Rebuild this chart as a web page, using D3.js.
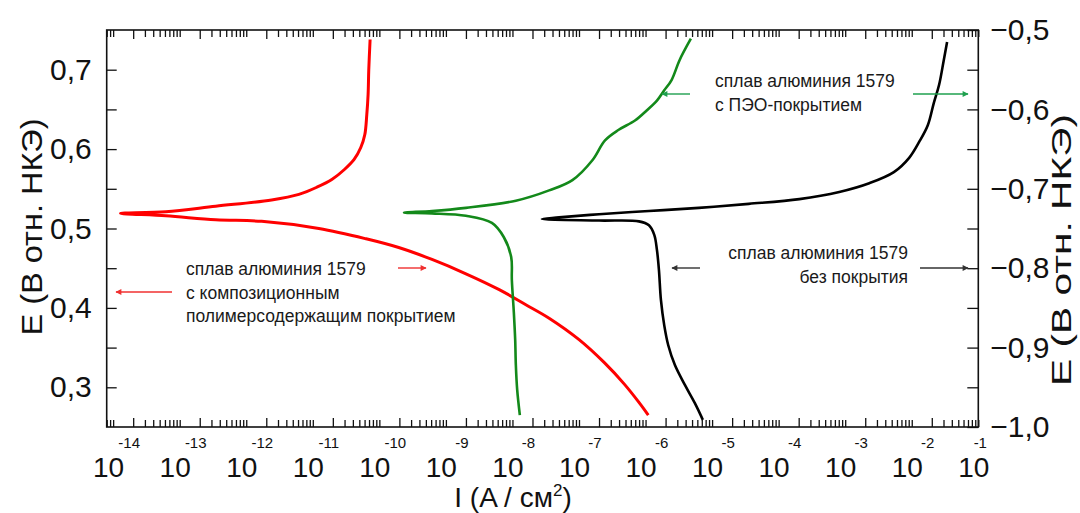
<!DOCTYPE html>
<html>
<head>
<meta charset="utf-8">
<script src="https://cdnjs.cloudflare.com/ajax/libs/d3/7.8.5/d3.min.js"></script>
<style>
body { margin: 0; background: #fff; }
svg { display: block; font-family: "Liberation Sans", Arial, sans-serif; }
</style>
</head>
<body>
<div id="chart"></div>
<script>
// polarization curves, lg(I) against E
var redLgI = [-10.44, -10.46, -10.47, -10.49, -10.52, -10.58, -10.68, -10.83, -11.01, -11.24, -11.51, -11.92, -12.76, -13.51, -14.19,
              -13.51, -12.76, -12.07, -11.21, -10.50, -10.01, -9.51, -9.00, -8.50, -8.10, -7.75, -7.30, -6.92, -6.62, -6.40, -6.26];
var redE = [0.738, 0.700, 0.669, 0.643, 0.618, 0.602, 0.587, 0.574, 0.562, 0.552, 0.543, 0.536, 0.528, 0.521, 0.519,
            0.516, 0.511, 0.509, 0.500, 0.487, 0.476, 0.461, 0.443, 0.423, 0.404, 0.387, 0.360, 0.331, 0.304, 0.281, 0.265];

var greenLgI = [-5.62, -5.79, -5.91, -6.02, -6.13, -6.28, -6.46, -6.71, -6.91, -7.10, -7.40, -7.75, -8.25, -9.00, -9.51, -9.93,
                -9.51, -9.00, -8.61, -8.43, -8.32, -8.31, -8.28, -8.26, -8.25, -8.23, -8.19];
var greenE = [-0.511, -0.538, -0.563, -0.576, -0.589, -0.601, -0.614, -0.626, -0.639, -0.664, -0.689, -0.702, -0.715, -0.724, -0.728, -0.730,
              -0.731, -0.734, -0.743, -0.761, -0.786, -0.815, -0.856, -0.890, -0.922, -0.953, -0.985];

var blackLgI = [-1.77, -1.82, -1.89, -1.97, -2.06, -2.19, -2.34, -2.57, -2.94, -3.39, -3.99, -4.75, -5.50, -6.25, -7.00, -7.60, -7.86,
                -7.00, -6.40, -6.25, -6.17, -6.13, -6.10, -6.07, -6.02, -5.96, -5.86, -5.71, -5.56, -5.44];
var blackE = [-0.515, -0.538, -0.569, -0.592, -0.620, -0.641, -0.661, -0.679, -0.693, -0.704, -0.713, -0.719, -0.724, -0.728, -0.732, -0.736, -0.738,
              -0.740, -0.741, -0.746, -0.758, -0.777, -0.802, -0.840, -0.872, -0.897, -0.922, -0.947, -0.970, -0.991];

var decades = [-14, -13, -12, -11, -10, -9, -8, -7, -6, -5, -4, -3, -2, -1];
var minorMult = [1.5, 2, 2.5, 3, 3.5, 4, 4.5, 5];
var leftTicks = [0.3, 0.4, 0.5, 0.6, 0.7];
var rightTicks = [-1.0, -0.9, -0.8, -0.7, -0.6, -0.5];

var redNote = ["сплав алюминия 1579", "с композиционным", "полимерсодержащим покрытием"];
var greenNote = ["сплав алюминия 1579", "с ПЭО-покрытием"];
var blackNote = ["сплав алюминия 1579", "без покрытия"];

var Chart = (function(d3) {
    var WIDTH = 1080, HEIGHT = 513,
        L = 106.7, R = 978.3, T = 30, B = 427;

    var x = d3.scaleLog().domain([4e-15, 5e-2]).range([L, R]);
    var yL = d3.scaleLinear().domain([0.25, 0.75]).range([B, T]);
    var yR = d3.scaleLinear().domain([-1.0, -0.5]).range([B, T]);

    function comma(d) {
        return d3.format(".1f")(d).replace(".", ",");
    }

    function pts(lg, e) {
        return lg.map(function(v, i) { return [Math.pow(10, v), e[i]]; });
    }

    function init() {
        var svg = d3.select('#chart').append('svg').attr('width', WIDTH).attr('height', HEIGHT);

        var defs = svg.append('defs');
        [['aRed', '#f03030'], ['aGreen', '#1fa04f'], ['aBlack', '#333']].forEach(function(m) {
            defs.append('marker').attr('id', m[0])
                .attr('viewBox', '0 0 10 10').attr('refX', 9).attr('refY', 5)
                .attr('markerWidth', 7).attr('markerHeight', 6).attr('orient', 'auto-start-reverse')
                .attr('markerUnits', 'userSpaceOnUse')
                .append('path').attr('d', 'M0,0L10,5L0,10z').attr('fill', m[1]);
        });

        drawAxes(svg);

        var lineL = d3.line().x(function(d) { return x(d[0]); }).y(function(d) { return yL(d[1]); }).curve(d3.curveCatmullRom);
        var lineR = d3.line().x(function(d) { return x(d[0]); }).y(function(d) { return yR(d[1]); }).curve(d3.curveCatmullRom);

        svg.append('path').attr('d', lineL(pts(redLgI, redE)))
            .attr('fill', 'none').attr('stroke', '#ff0000').attr('stroke-width', 3);
        svg.append('path').attr('d', lineR(pts(greenLgI, greenE)))
            .attr('fill', 'none').attr('stroke', '#13891a').attr('stroke-width', 2.6);
        svg.append('path').attr('d', lineR(pts(blackLgI, blackE)))
            .attr('fill', 'none').attr('stroke', '#000').attr('stroke-width', 2.6);

        notes(svg);
    }

    function drawAxes(svg) {
        var majors = decades.slice(0, -1).map(function(k) { return Math.pow(10, k); });
        var minors = [];
        d3.range(-15, -1).forEach(function(k) {
            minorMult.forEach(function(m) {
                var v = m * Math.pow(10, k);
                if (v >= 4e-15 && v <= 5e-2) minors.push(v);
            });
        });

        var g = svg.append('g').attr('class', 'axes');

        g.append('g').attr('transform', 'translate(0,' + B + ')')
            .call(d3.axisBottom(x).tickValues(majors).tickSize(-9).tickSizeOuter(0).tickFormat(''));
        g.append('g').attr('transform', 'translate(0,' + B + ')')
            .call(d3.axisBottom(x).tickValues(minors).tickSize(-7).tickSizeOuter(0).tickFormat(''));
        g.append('g').attr('transform', 'translate(0,' + T + ')')
            .call(d3.axisTop(x).tickValues(majors).tickSize(-9).tickSizeOuter(0).tickFormat(''));
        g.append('g').attr('transform', 'translate(0,' + T + ')')
            .call(d3.axisTop(x).tickValues(minors).tickSize(-7).tickSizeOuter(0).tickFormat(''));

        g.append('g').attr('transform', 'translate(' + L + ',0)')
            .call(d3.axisLeft(yL).tickValues(leftTicks.concat([0.35, 0.45, 0.55, 0.65])).tickSize(-10).tickPadding(15)
                .tickFormat(function(d) { return leftTicks.indexOf(d) > -1 ? comma(d) : ''; }));
        g.append('g').attr('transform', 'translate(' + R + ',0)')
            .call(d3.axisRight(yR).tickValues(rightTicks.concat([-0.95, -0.85, -0.75, -0.65, -0.55])).tickSize(-11).tickPadding(12)
                .tickFormat(function(d) { return rightTicks.indexOf(d) > -1 ? comma(d) : ''; }));

        g.selectAll('.domain').remove();
        g.selectAll('.tick line').attr('stroke', '#111').attr('stroke-width', 1.3);
        g.selectAll('.tick text').attr('font-size', 30).attr('fill', '#111').attr('font-family', null);

        svg.append('rect').attr('x', L).attr('y', T).attr('width', R - L).attr('height', B - T)
            .attr('fill', 'none').attr('stroke', '#111').attr('stroke-width', 1.6);

        // 10^k labels under the bottom axis, the last one sits past the frame
        var lab = svg.append('g').attr('fill', '#111');
        decades.forEach(function(k) {
            var px = x(Math.pow(10, k));
            lab.append('text').attr('x', px - 9).attr('y', 477).attr('text-anchor', 'end')
                .attr('font-size', 28).text('10');
            lab.append('text').attr('x', Math.min(px - 4, R + 2)).attr('y', 448).attr('text-anchor', 'middle')
                .attr('font-size', 15).text(k);
        });

        var xt = svg.append('text').attr('x', 513).attr('y', 507).attr('text-anchor', 'middle')
            .attr('font-size', 28).attr('fill', '#111');
        xt.append('tspan').text('I (A / см');
        xt.append('tspan').attr('font-size', 17).attr('dy', -11).text('2');
        xt.append('tspan').attr('dy', 11).text(')');

        svg.append('text').attr('transform', 'translate(42,227) rotate(-90)').attr('text-anchor', 'middle')
            .attr('font-size', 30).attr('fill', '#111')
            .attr('textLength', 217).attr('lengthAdjust', 'spacingAndGlyphs')
            .text('E (В отн. НКЭ)');
        svg.append('text').attr('transform', 'translate(1071,250) rotate(-90)').attr('text-anchor', 'middle')
            .attr('font-size', 27).attr('fill', '#111')
            .attr('textLength', 272).attr('lengthAdjust', 'spacingAndGlyphs')
            .text('E (В отн. НКЭ)');
    }

    function block(svg, lines, px, py, anchor) {
        var t = svg.append('text').attr('font-size', 17.5).attr('fill', '#1a1a1a').attr('text-anchor', anchor);
        lines.forEach(function(s, i) {
            t.append('tspan').attr('x', px).attr('y', py + i * 23.5).text(s);
        });
    }

    function arrow(svg, x1, x2, yy, color, marker) {
        svg.append('line').attr('x1', x1).attr('x2', x2).attr('y1', yy).attr('y2', yy)
            .attr('stroke', color).attr('stroke-width', 1.4).attr('marker-end', 'url(#' + marker + ')');
    }

    function notes(svg) {
        block(svg, redNote, 186, 275, 'start');
        arrow(svg, 398, 426, 268, '#f03030', 'aRed');
        arrow(svg, 172, 116, 292, '#f03030', 'aRed');

        block(svg, greenNote, 715, 87, 'start');
        arrow(svg, 690, 662, 94, '#1fa04f', 'aGreen');
        arrow(svg, 913, 968, 94, '#1fa04f', 'aGreen');

        block(svg, blackNote, 908, 259, 'end');
        arrow(svg, 700, 672, 268, '#333', 'aBlack');
        arrow(svg, 920, 968, 268, '#333', 'aBlack');
    }

    return {
        init: init
    };
})(d3);

Chart.init();
</script>
</body>
</html>
